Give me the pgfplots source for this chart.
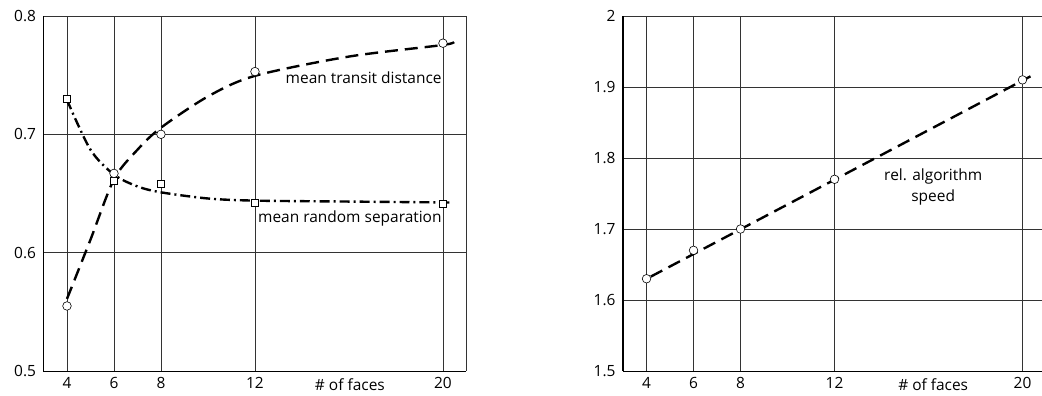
\documentclass[border=0pt]{standalone}
\usepackage{fontspec}
\setmainfont{Open Sans}
\usepackage{pgfplots}
\pgfplotsset{compat=1.18}
\begin{document}
\pgfplotsset{
  myax/.style={
    scale only axis, width=424pt, height=356pt,
    xmin=3, xmax=21, clip=false,
    axis x line*=bottom, axis y line*=left,
    axis line style={line width=1.1pt, black, -},
    xtick={4,6,8,12,20},
    major tick length=0pt,
    grid=major,
    major grid style={line width=0.6pt, black!80},
    extra x ticks={21}, extra x tick labels={},
    extra tick style={grid=major, major grid style={line width=0.6pt, black!80}},
    tick label style={font=\fontsize{15.5}{17}\selectfont},
    /pgf/number format/assume math mode=true,
    xticklabel style={yshift=-3pt},
    yticklabel style={xshift=-4pt},
  },
  circ/.style={only marks, mark=*, mark size=4.3pt, mark options={fill=white, draw=black, line width=0.6pt}},
  sq/.style={only marks, mark=square*, mark size=3.6pt, mark options={fill=white, draw=black, line width=0.6pt}},
}
\begin{tikzpicture}
\useasboundingbox (-41pt,-24pt) rectangle (1001pt,372pt);
% Left panel
\begin{axis}[myax, at={(0pt,0pt)}, anchor=south west,
  ymin=0.5, ymax=0.8, ytick={0.5,0.6,0.7,0.8}]
\addplot[smooth, line width=2.4pt, dash pattern=on 13pt off 7pt] coordinates {
 (4,0.561) (5,0.611) (6,0.662) (7,0.687) (8,0.7056) (10,0.732) (12,0.7494) (16,0.7657) (20,0.7755) (20.4,0.778)};
\addplot[smooth, line width=2.4pt, dash pattern=on 10pt off 4pt on 2pt off 4pt] coordinates {
 (4,0.729) (5,0.687) (6,0.666) (7,0.656) (8,0.651) (10,0.6458) (12,0.644) (16,0.6432) (20.4,0.6424)};
\addplot[sq] coordinates {(4,0.730) (6,0.661) (8,0.658) (12,0.642) (20,0.641)};
\addplot[circ] coordinates {(4,0.555) (6,0.667) (8,0.700) (12,0.753) (20,0.777)};
\node[anchor=east, font=\fontsize{15.5}{17}\selectfont, inner sep=0pt] at (axis cs:19.95,0.7477) {mean transit distance};
\node[anchor=east, font=\fontsize{15.5}{17}\selectfont, inner sep=0pt] at (axis cs:19.95,0.629) {mean random separation};
\node[font=\fontsize{15.5}{17}\selectfont, inner sep=0pt] at (axis cs:16.04,0.5) [yshift=-14pt] {\# of faces};
\end{axis}
% Right panel
\begin{axis}[myax, at={(581pt,0pt)}, anchor=south west,
  ymin=1.5, ymax=2, ytick={1.5,1.6,1.7,1.8,1.9,2}]
\addplot[line width=2.4pt, dash pattern=on 13pt off 7pt] coordinates {(4.18,1.633) (20.34,1.915)};
\addplot[circ] coordinates {(4,1.63) (6,1.67) (8,1.70) (12,1.77) (20,1.91)};
\node[align=center, font=\fontsize{15.5}{21}\selectfont, inner sep=0pt] at (axis cs:16.2,1.7586) {rel. algorithm\\speed};
\node[font=\fontsize{15.5}{17}\selectfont, inner sep=0pt] at (axis cs:16.2,1.5) [yshift=-14pt] {\# of faces};
\end{axis}
\end{tikzpicture}
\end{document}
